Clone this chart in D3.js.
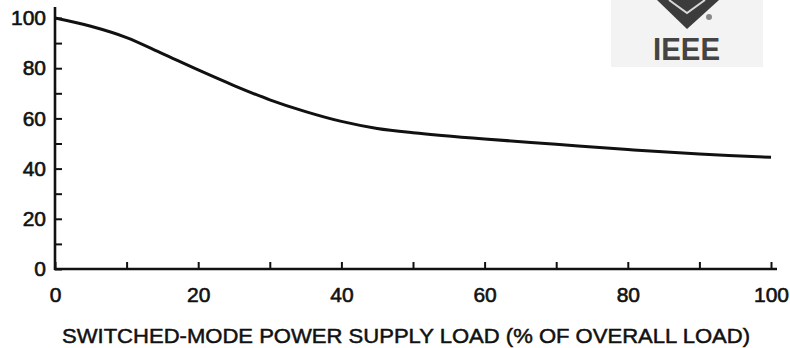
<!DOCTYPE html>
<html>
<head>
<meta charset="utf-8">
<script src="https://cdn.jsdelivr.net/npm/d3@7"></script>
<style>
  body { margin: 0; background: #fff; }
  svg text { font-family: "Liberation Sans", Arial, sans-serif; fill: #111; }
</style>
</head>
<body>
<div id="chart"></div>
<script>
// curve
const loadPct = [0, 5, 10, 15, 20, 25, 30, 35, 40, 45, 50, 60, 70, 80, 90, 100];
const relValue = [100, 96.7, 92.2, 85.8, 79.3, 73.1, 67.4, 62.7, 58.8, 56.0, 54.3, 51.8, 49.7, 47.6, 45.8, 44.5];
const xTicks = [0, 10, 20, 30, 40, 50, 60, 70, 80, 90, 100];
const yTicks = [0, 10, 20, 30, 40, 50, 60, 70, 80, 90, 100];
const xTitle = "SWITCHED-MODE POWER SUPPLY LOAD (% OF OVERALL LOAD)";

const W = 790, H = 348;
const margin = {top: 18, right: 19, bottom: 79, left: 55};
const width = W - margin.left - margin.right;
const height = H - margin.top - margin.bottom;

const svg = d3.select("#chart").append("svg")
    .attr("width", W)
    .attr("height", H);

// IEEE logo in the corner
const logo = svg.append("g");
logo.append("rect")
    .attr("x", 611).attr("y", 0)
    .attr("width", 152).attr("height", 67)
    .attr("fill", "#f3f3f3");
logo.append("path")
    .attr("d", "M657,0 L719,0 L687,29 Z")
    .attr("fill", "#3c3c3c");
logo.append("path")
    .attr("d", "M669,0 L687,13 L705,0")
    .attr("fill", "none")
    .attr("stroke", "#d8d8d8")
    .attr("stroke-width", 2);
logo.append("circle")
    .attr("cx", 709).attr("cy", 17).attr("r", 3)
    .attr("fill", "#888");
logo.append("text")
    .attr("x", 653).attr("y", 60)
    .attr("textLength", 67)
    .attr("lengthAdjust", "spacingAndGlyphs")
    .style("font-size", "31px")
    .style("font-weight", "bold")
    .style("fill", "#444")
    .text("IEEE");

const g = svg.append("g")
    .attr("transform", `translate(${margin.left},${margin.top})`);

const x = d3.scaleLinear().domain([0, 100]).range([0, width]);
const y = d3.scaleLinear().domain([0, 100]).range([height, 0]);

// Y axis, ticks pointing inward
const yAxis = g.append("g")
    .call(d3.axisLeft(y)
        .tickValues(yTicks)
        .tickSizeInner(-7)
        .tickSizeOuter(0)
        .tickPadding(9)
        .tickFormat(d => d % 20 === 0 ? d : ""));

// X axis
const xAxis = g.append("g")
    .attr("transform", `translate(0,${height})`)
    .call(d3.axisBottom(x)
        .tickValues(xTicks)
        .tickSizeInner(-7)
        .tickSizeOuter(0)
        .tickPadding(18)
        .tickFormat(d => d % 20 === 0 ? d : ""));

[xAxis, yAxis].forEach(a => {
    a.select(".domain").remove();
    a.selectAll(".tick line").attr("stroke", "#111").attr("stroke-width", 2);
    a.selectAll("text")
        .style("font-size", "21px")
        .style("fill", "#111")
        .style("stroke", "#111")
        .style("stroke-width", 0.6);
});

// axis lines drawn a bit past the ends like the original
g.append("line")
    .attr("x1", 0).attr("x2", 0)
    .attr("y1", -11).attr("y2", height + 1)
    .attr("stroke", "#111").attr("stroke-width", 2.6);
g.append("line")
    .attr("x1", -1).attr("x2", width + 6)
    .attr("y1", height).attr("y2", height)
    .attr("stroke", "#111").attr("stroke-width", 2.6);

const line = d3.line()
    .x((d, i) => x(loadPct[i]))
    .y(d => y(d))
    .curve(d3.curveCatmullRom.alpha(0.5));

g.append("path")
    .datum(relValue)
    .attr("fill", "none")
    .attr("stroke", "#111")
    .attr("stroke-width", 3)
    .attr("d", line);

svg.append("text")
    .attr("x", 62)
    .attr("y", 343)
    .attr("textLength", 688)
    .attr("lengthAdjust", "spacingAndGlyphs")
    .style("font-size", "21px")
    .style("stroke", "#111")
    .style("stroke-width", 0.5)
    .text(xTitle);
</script>
</body>
</html>
